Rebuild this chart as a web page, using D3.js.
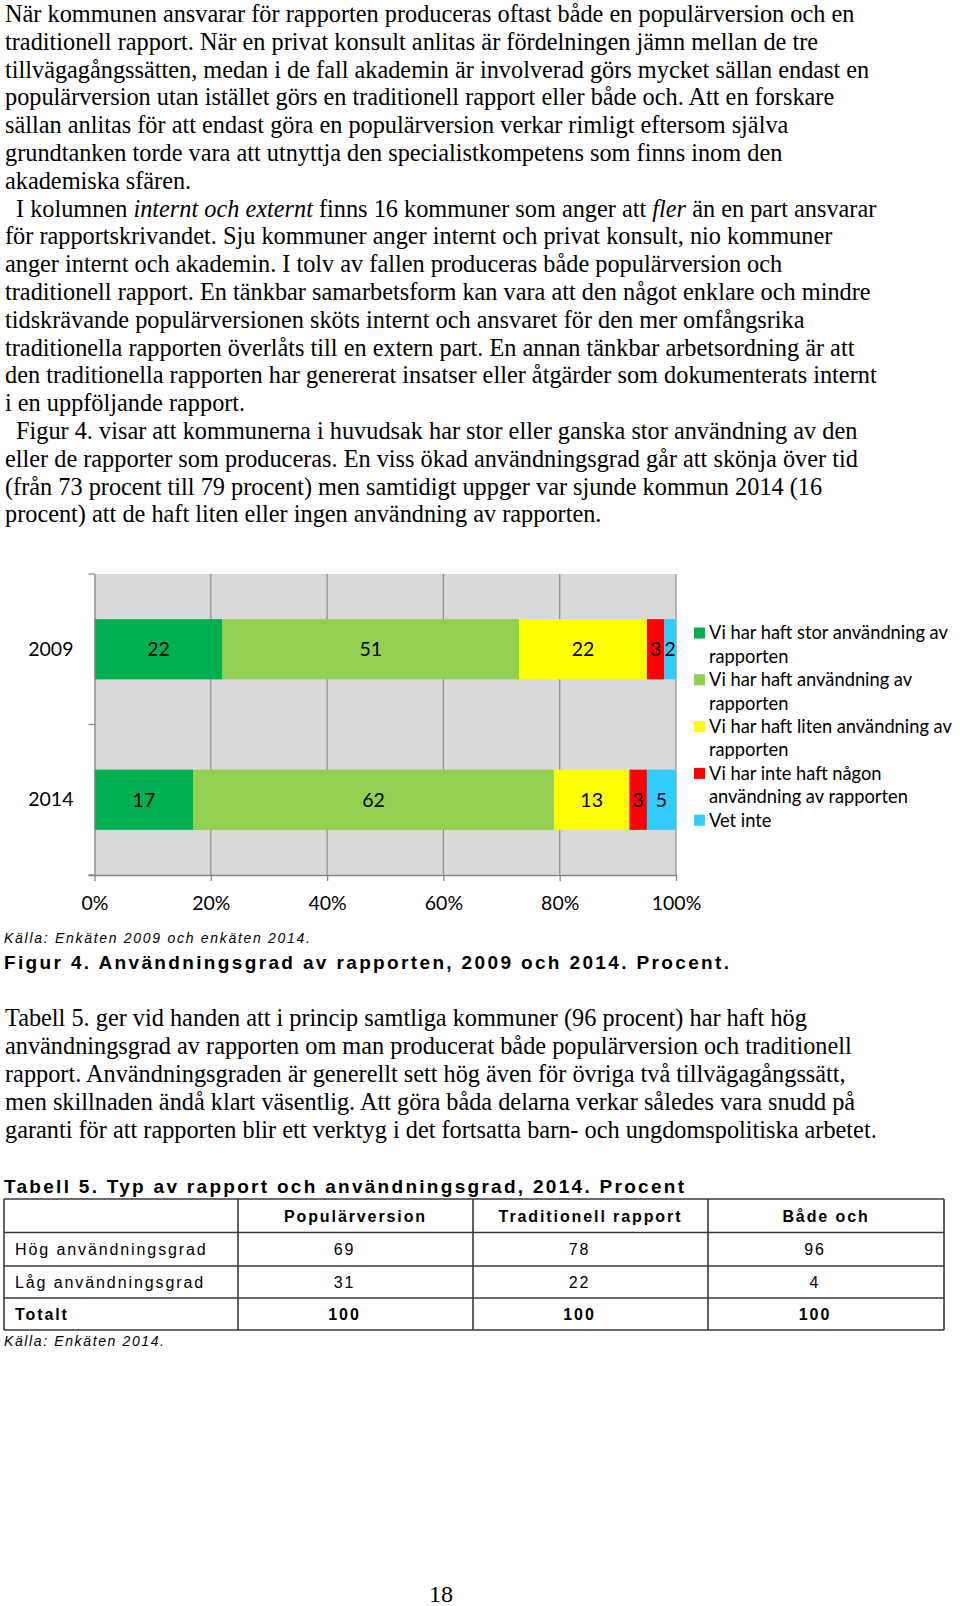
<!DOCTYPE html>
<html>
<head>
<meta charset="utf-8">
<script src="https://cdn.jsdelivr.net/npm/d3@7"></script>
<style>
  html, body { margin: 0; padding: 0; background: #fff; }
  svg { display: block; }
</style>
</head>
<body>
<svg id="page" width="960" height="1606"></svg>
<script>
// ---------------- DATA ----------------
const categories = ["2009", "2014"];
const seriesNames = [
  "Vi har haft stor användning av rapporten",
  "Vi har haft användning av rapporten",
  "Vi har haft liten användning av rapporten",
  "Vi har inte haft någon användning av rapporten",
  "Vet inte"
];
const legendLines = [
  ["Vi har haft stor användning av", "rapporten"],
  ["Vi har haft användning av", "rapporten"],
  ["Vi har haft liten användning av", "rapporten"],
  ["Vi har inte haft någon", "användning av rapporten"],
  ["Vet inte"]
];
const storValues  = [22, 17];
const anvValues   = [51, 62];
const litenValues = [22, 13];
const ingenValues = [3, 3];
const vetValues   = [2, 5];
const tickValues  = [0, 20, 40, 60, 80, 100];

const tableColumns = ["Populärversion", "Traditionell rapport", "Både och"];
const tableRows    = ["Hög användningsgrad", "Låg användningsgrad", "Totalt"];
const hogValues    = [69, 78, 96];
const lagValues    = [31, 22, 4];
const totValues    = [100, 100, 100];

const para1 = [
  "När kommunen ansvarar för rapporten produceras oftast både en populärversion och en",
  "traditionell rapport. När en privat konsult anlitas är fördelningen jämn mellan de tre",
  "tillvägagångssätten, medan i de fall akademin är involverad görs mycket sällan endast en",
  "populärversion utan istället görs en traditionell rapport eller både och. Att en forskare",
  "sällan anlitas för att endast göra en populärversion verkar rimligt eftersom själva",
  "grundtanken torde vara att utnyttja den specialistkompetens som finns inom den",
  "akademiska sfären.",
  ">I kolumnen _internt och externt_ finns 16 kommuner som anger att _fler_ än en part ansvarar",
  "för rapportskrivandet. Sju kommuner anger internt och privat konsult, nio kommuner",
  "anger internt och akademin. I tolv av fallen produceras både populärversion och",
  "traditionell rapport. En tänkbar samarbetsform kan vara att den något enklare och mindre",
  "tidskrävande populärversionen sköts internt och ansvaret för den mer omfångsrika",
  "traditionella rapporten överlåts till en extern part. En annan tänkbar arbetsordning är att",
  "den traditionella rapporten har genererat insatser eller åtgärder som dokumenterats internt",
  "i en uppföljande rapport.",
  ">Figur 4. visar att kommunerna i huvudsak har stor eller ganska stor användning av den",
  "eller de rapporter som produceras. En viss ökad användningsgrad går att skönja över tid",
  "(från 73 procent till 79 procent) men samtidigt uppger var sjunde kommun 2014 (16",
  "procent) att de haft liten eller ingen användning av rapporten."
];
const para2 = [
  "Tabell 5. ger vid handen att i princip samtliga kommuner (96 procent) har haft hög",
  "användningsgrad av rapporten om man producerat både populärversion och traditionell",
  "rapport. Användningsgraden är generellt sett hög även för övriga två tillvägagångssätt,",
  "men skillnaden ändå klart väsentlig. Att göra båda delarna verkar således vara snudd på",
  "garanti för att rapporten blir ett verktyg i det fortsatta barn- och ungdomspolitiska arbetet."
];
const figSource = "Källa: Enkäten 2009 och enkäten 2014.";
const figCaption = "Figur 4. Användningsgrad av rapporten, 2009 och 2014. Procent.";
const tabCaption = "Tabell 5. Typ av rapport och användningsgrad, 2014. Procent";
const tabSource = "Källa: Enkäten 2014.";
const pageNumber = "18";

// ---------------- STYLE ----------------
const palette = ["#00B050", "#92D050", "#FFFF00", "#FF0000", "#33CCFF"];
const serif = "'Liberation Serif', 'Times New Roman', serif";
const sans = "'Liberation Sans', Arial, sans-serif";
const chartFont = "Lato, Carlito, Calibri, sans-serif";

const svg = d3.select("#page");
svg.append("rect").attr("width", 960).attr("height", 1606).attr("fill", "#fff");

// ---------------- BODY TEXT ----------------
function drawParagraph(lines, y0, lh) {
  const g = svg.append("g")
    .attr("font-family", serif).attr("font-size", 24.3).attr("fill", "#000");
  lines.forEach((line, i) => {
    let indent = 5;
    let s = line;
    if (s.startsWith(">")) { indent = 16; s = s.slice(1); }
    const t = g.append("text").attr("x", indent).attr("y", y0 + i * lh);
    s.split("_").forEach((seg, k) => {
      if (!seg.length) return;
      t.append("tspan").attr("font-style", k % 2 ? "italic" : "normal").text(seg);
    });
  });
}
drawParagraph(para1, 22, 27.8);
drawParagraph(para2, 1026, 27.9);

// ---------------- CHART ----------------
const plot = { left: 94.5, right: 676, top: 574, bottom: 875 };
const keys = ["stor", "anv", "liten", "ingen", "vet"];
const rows = categories.map((c, i) => ({
  cat: c, stor: storValues[i], anv: anvValues[i], liten: litenValues[i],
  ingen: ingenValues[i], vet: vetValues[i]
}));
const stacked = d3.stack().keys(keys)(rows);

const x = d3.scaleLinear().domain([0, 100]).range([plot.left, plot.right]);
const y = d3.scaleBand().domain(categories).range([plot.top, plot.bottom])
  .paddingInner(0.6).paddingOuter(0.3);
const color = d3.scaleOrdinal().domain(keys).range(palette);

const chart = svg.append("g");
chart.append("rect")
  .attr("x", plot.left).attr("y", plot.top)
  .attr("width", plot.right - plot.left).attr("height", plot.bottom - plot.top)
  .attr("fill", "#D9D9D9");

// gridlines
chart.append("g")
  .selectAll("line").data(tickValues.filter(d => d > 0)).join("line")
  .attr("x1", d => x(d)).attr("x2", d => x(d))
  .attr("y1", plot.top).attr("y2", plot.bottom)
  .attr("stroke", "#8C8C8C").attr("stroke-width", 1.2);

// bars
const layer = chart.append("g").selectAll("g").data(stacked).join("g")
  .attr("fill", d => color(d.key));
layer.selectAll("rect").data(d => d).join("rect")
  .attr("x", d => x(d[0])).attr("width", d => x(d[1]) - x(d[0]))
  .attr("y", d => y(d.data.cat)).attr("height", y.bandwidth());

// data labels
const lbl = chart.append("g").attr("font-family", chartFont).attr("font-size", 19.5)
  .attr("fill", "#000").attr("text-anchor", "middle");
stacked.forEach(s => {
  s.forEach(d => {
    lbl.append("text")
      .attr("x", x((d[0] + d[1]) / 2))
      .attr("y", y(d.data.cat) + y.bandwidth() / 2)
      .attr("dy", "0.36em")
      .text(d[1] - d[0]);
  });
});

// x axis
const xAxis = d3.axisBottom(x).tickValues(tickValues).tickFormat(d => d + "%")
  .tickSize(6).tickPadding(15).tickSizeOuter(0);
const gx = chart.append("g").attr("transform", `translate(0,${plot.bottom})`).call(xAxis);
gx.select(".domain").attr("stroke", "#868686").attr("stroke-width", 1.3)
  .attr("d", `M${plot.left - 6},0.5H${plot.right}`);
gx.selectAll(".tick line").attr("stroke", "#868686").attr("stroke-width", 1.3);
gx.selectAll(".tick text").attr("font-family", chartFont).attr("font-size", 19.5).attr("fill", "#000");

// y axis
const yAxis = d3.axisLeft(y).tickSize(0).tickPadding(21);
const gy = chart.append("g").attr("transform", `translate(${plot.left},0)`).call(yAxis);
gy.select(".domain").attr("stroke", "#868686").attr("stroke-width", 1.3)
  .attr("d", `M0.5,${plot.top}V${plot.bottom}`);
gy.selectAll(".tick text").attr("font-family", chartFont).attr("font-size", 19.5).attr("fill", "#000");
const bounds = [plot.top, plot.top + y.step() * (y.paddingOuter() + 1 - y.paddingInner() / 2) , plot.bottom];
gy.append("g").selectAll("line").data(bounds).join("line")
  .attr("x1", -6).attr("x2", 0).attr("y1", d => d).attr("y2", d => d)
  .attr("stroke", "#868686").attr("stroke-width", 1.3);

// legend
const leg = svg.append("g").attr("font-family", chartFont).attr("font-size", 18.3).attr("fill", "#000");
const legLH = 23.4;
let li = 0;
legendLines.forEach((lines, k) => {
  const cy = 633 + li * legLH;
  leg.append("rect").attr("x", 694).attr("y", cy - 5.5).attr("width", 11).attr("height", 11)
    .attr("fill", palette[k]);
  lines.forEach((ln, j) => {
    leg.append("text").attr("x", 709).attr("y", cy + j * legLH).attr("dy", "0.35em").text(ln);
  });
  li += lines.length;
});

// captions
svg.append("text").attr("x", 4).attr("y", 943).attr("font-family", sans)
  .attr("font-style", "italic").attr("font-size", 14)
  .attr("textLength", 306).attr("lengthAdjust", "spacing").text(figSource);
svg.append("text").attr("x", 4).attr("y", 968.5).attr("font-family", sans)
  .attr("font-weight", "bold").attr("font-size", 19)
  .attr("textLength", 725).attr("lengthAdjust", "spacing").text(figCaption);

// ---------------- TABLE ----------------
svg.append("text").attr("x", 4).attr("y", 1192.5).attr("font-family", sans)
  .attr("font-weight", "bold").attr("font-size", 19)
  .attr("textLength", 680).attr("lengthAdjust", "spacing").text(tabCaption);

const colX = [4, 238, 473, 708, 944];
const rowY = [1199, 1232.5, 1266, 1298, 1330];
const tg = svg.append("g").attr("font-family", sans).attr("font-size", 16).attr("fill", "#000")
  .attr("letter-spacing", "1.9px");
const border = svg.append("g").attr("stroke", "#3a3a3a").attr("stroke-width", 1.6).attr("fill", "none");
rowY.forEach(yy => border.append("line").attr("x1", colX[0]).attr("x2", colX[4]).attr("y1", yy).attr("y2", yy));
colX.forEach(xx => border.append("line").attr("x1", xx).attr("x2", xx).attr("y1", rowY[0]).attr("y2", rowY[4]));

tableColumns.forEach((c, i) => {
  tg.append("text").attr("x", (colX[i + 1] + colX[i + 2]) / 2).attr("y", (rowY[0] + rowY[1]) / 2)
    .attr("dy", "0.36em").attr("text-anchor", "middle").attr("font-weight", "bold").text(c);
});
const tableValues = [hogValues, lagValues, totValues];
tableRows.forEach((r, ri) => {
  const cy = (rowY[ri + 1] + rowY[ri + 2]) / 2;
  const bold = ri === 2 ? "bold" : "normal";
  tg.append("text").attr("x", 15).attr("y", cy).attr("dy", "0.36em")
    .attr("font-weight", bold).text(r);
  tableValues[ri].forEach((v, ci) => {
    tg.append("text").attr("x", (colX[ci + 1] + colX[ci + 2]) / 2 - 11).attr("y", cy)
      .attr("dy", "0.36em").attr("text-anchor", "middle").attr("font-weight", bold).text(v);
  });
});
svg.append("text").attr("x", 4).attr("y", 1346).attr("font-family", sans)
  .attr("font-style", "italic").attr("font-size", 14)
  .attr("textLength", 160).attr("lengthAdjust", "spacing").text(tabSource);

// page number
svg.append("text").attr("x", 441).attr("y", 1602).attr("text-anchor", "middle")
  .attr("font-family", serif).attr("font-size", 24).text(pageNumber);
</script>
</body>
</html>
